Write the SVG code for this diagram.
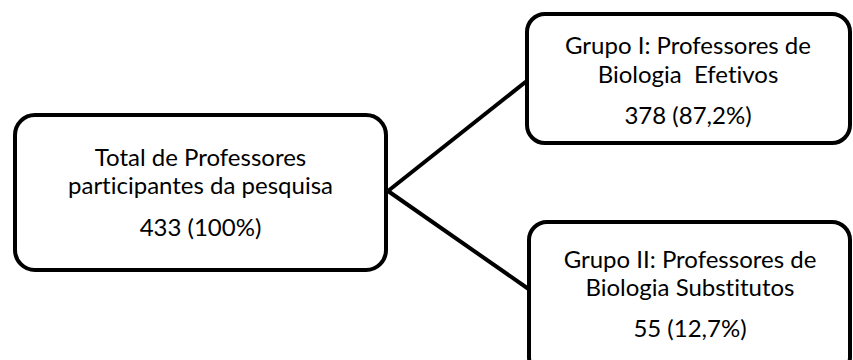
<svg xmlns="http://www.w3.org/2000/svg" width="853" height="360" viewBox="0 0 853 360">
<style>
.box{fill:#fff;stroke:#000;stroke-width:4}
.t{font-family:Lato,"Open Sans","Liberation Sans",sans-serif;font-size:24px;fill:#000;text-anchor:middle;font-variant-ligatures:none}
.c{stroke:#000;stroke-width:4;fill:none}
</style>
<rect width="853" height="360" fill="#fff"/>
<g id="connectors">
<line class="c" x1="388" y1="191" x2="528" y2="80"/>
<line class="c" x1="388" y1="191" x2="530" y2="290"/>
</g>
<g id="total">
<rect class="box" x="15" y="115" width="371" height="155" rx="20"/>
<text class="t" x="200.5" y="166">Total de Professores</text>
<text class="t" x="200.5" y="194">participantes da pesquisa</text>
<text class="t" x="200.5" y="236">433 (100%)</text>
</g>
<g id="grupo1">
<rect class="box" x="527" y="14" width="323" height="129" rx="18"/>
<text class="t" x="688" y="54">Grupo I: Professores de</text>
<text class="t" x="688" y="83" xml:space="preserve">Biologia  Efetivos</text>
<text class="t" x="688" y="124">378 (87,2%)</text>
</g>
<g id="grupo2">
<rect class="box" x="529" y="222" width="321" height="153" rx="18"/>
<text class="t" x="690" y="268">Grupo II: Professores de</text>
<text class="t" x="690" y="296">Biologia Substitutos</text>
<text class="t" x="690" y="337">55 (12,7%)</text>
</g>
</svg>
